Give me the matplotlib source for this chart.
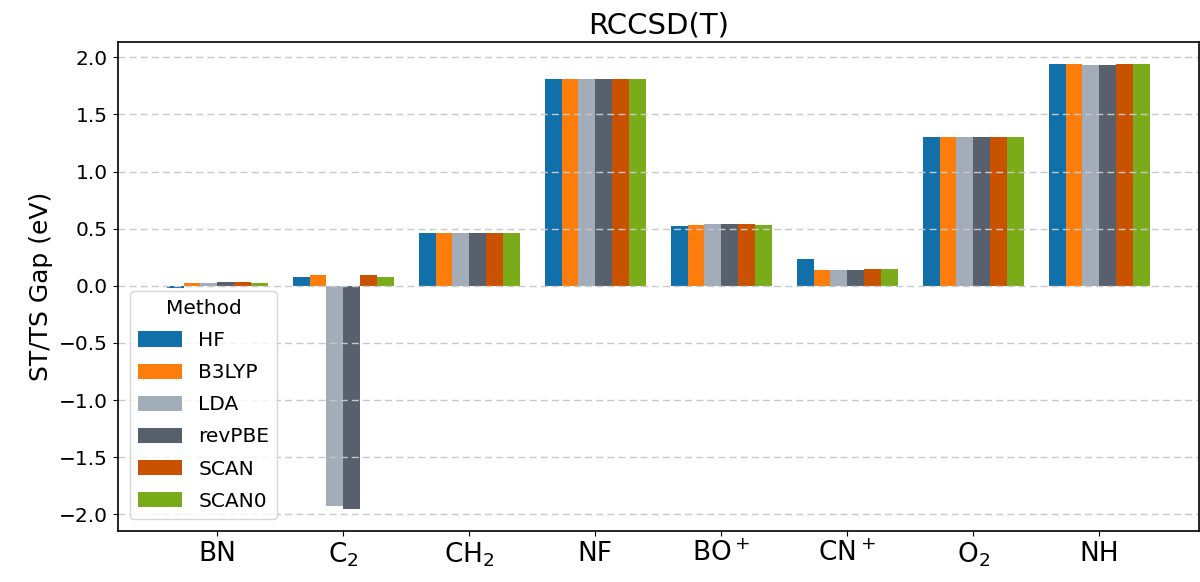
import numpy as np
import matplotlib
matplotlib.use("Agg")
import matplotlib.pyplot as plt

molecules = ["BN", r"C$_2$", r"CH$_2$", "NF", r"BO$^+$", r"CN$^+$", r"O$_2$", "NH"]
methods = ["HF", "B3LYP", "LDA", "revPBE", "SCAN", "SCAN0"]

# ST/TS gap (eV) per method, one value per molecule
hf     = [-0.02, 0.08, 0.46, 1.81, 0.52, 0.23, 1.30, 1.94]
b3lyp  = [0.02, 0.09, 0.46, 1.81, 0.53, 0.14, 1.30, 1.94]
lda    = [0.02, -1.93, 0.46, 1.81, 0.54, 0.14, 1.30, 1.93]
revpbe = [0.03, -1.95, 0.46, 1.81, 0.54, 0.14, 1.30, 1.93]
scan   = [0.03, 0.09, 0.46, 1.81, 0.54, 0.15, 1.30, 1.94]
scan0  = [0.02, 0.08, 0.46, 1.81, 0.53, 0.15, 1.30, 1.94]

colors = ["#1170aa", "#fc7d0b", "#a3acb9", "#57606c", "#c85200", "#7aab19"]

series = [hf, b3lyp, lda, revpbe, scan, scan0]

fig, ax = plt.subplots(figsize=(12, 5.82), dpi=100)
fig.subplots_adjust(left=0.098, right=0.999, top=0.928, bottom=0.088)

x = np.arange(len(molecules))
width = 0.8 / len(methods)
for i, (vals, name) in enumerate(zip(series, methods)):
    offset = (i - (len(methods) - 1) / 2) * width
    ax.bar(x + offset, vals, width, label=name, color=colors[i])

ax.set_xticks(x)
ax.set_xticklabels(molecules, fontsize=19)
ax.tick_params(axis="y", labelsize=14.5)
ax.set_ylabel("ST/TS Gap (eV)", fontsize=18)
ax.set_title("RCCSD(T)", fontsize=21)
ax.yaxis.grid(True, linestyle="--", color="#c8c8c8", linewidth=1.0, dashes=(5, 3))
for s in ax.spines.values():
    s.set_linewidth(1.2)

ax.legend(title="Method", loc="lower left", fontsize=14.5, title_fontsize=14.5,
          handlelength=2.2, handleheight=0.8, labelspacing=0.65,
          borderaxespad=0.6)

fig.savefig("out.png")
